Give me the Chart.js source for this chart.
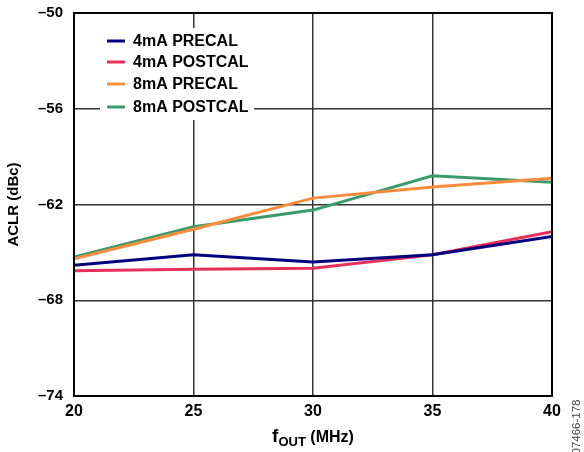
<!DOCTYPE html>
<html>
<head>
<meta charset="utf-8">
<script src="https://cdn.jsdelivr.net/npm/chart.js@4.4.0/dist/chart.umd.min.js"></script>
<style>
  html, body { margin: 0; padding: 0; background: #fff; overflow: hidden; }
  #wrap { width: 584px; height: 459px; position: relative; top: -7px; }
</style>
</head>
<body>
<div id="wrap"><canvas id="chart"></canvas></div>
<script>
// f_OUT in MHz
const freqs = [20, 25, 30, 35, 40];
const seriesNames = ['4mA PRECAL', '4mA POSTCAL', '8mA PRECAL', '8mA POSTCAL'];
const pre4 = [-65.8, -65.15, -65.6, -65.15, -64.0];
const post4 = [-66.15, -66.05, -66.0, -65.15, -63.7];
const pre8 = [-65.4, -63.55, -61.6, -60.9, -60.35];
const post8 = [-65.3, -63.4, -62.35, -60.2, -60.6];
const seriesColors = ['#00007f', '#e5305b', '#ff8c3c', '#3a9a6b'];
const yTicks = [-74, -68, -62, -56, -50];

const FONT = '"Liberation Sans", Arial, sans-serif';
const OFF = 7; // canvas is shifted up by this much

function pts(vals) {
    return freqs.map((f, i) => ({ x: f, y: vals[i] }));
}

const allSeries = [pre4, post4, pre8, post8];
const datasets = allSeries.map((vals, i) => ({
    label: seriesNames[i],
    data: pts(vals),
    borderColor: seriesColors[i],
    backgroundColor: seriesColors[i],
    borderWidth: 3,
    pointRadius: 0,
    tension: 0
}));

// legend box + axis titles + figure number
const extras = {
    id: 'extras',
    afterDatasetsDraw(chart) {
        const ctx = chart.ctx;
        const area = chart.chartArea;
        ctx.save();

        // frame
        ctx.strokeStyle = '#000';
        ctx.lineWidth = 2;
        ctx.strokeRect(area.left, area.top, area.right - area.left, area.bottom - area.top);

        // page coordinates from here on
        ctx.translate(0, OFF);

        // legend box over the grid
        ctx.fillStyle = '#fff';
        ctx.fillRect(100, 28, 154, 92);
        ctx.font = 'bold 16px ' + FONT;
        ctx.textBaseline = 'middle';
        ctx.textAlign = 'left';
        const rows = [41, 62, 84, 107];
        seriesNames.forEach((name, i) => {
            ctx.strokeStyle = seriesColors[i];
            ctx.lineWidth = 3;
            ctx.beginPath();
            ctx.moveTo(107, rows[i]);
            ctx.lineTo(125, rows[i]);
            ctx.stroke();
            ctx.fillStyle = '#000';
            ctx.fillText(name, 133, rows[i] + 1);
        });

        // y title
        ctx.fillStyle = '#000';
        ctx.font = 'bold 15px ' + FONT;
        ctx.save();
        ctx.translate(18, (area.top + area.bottom) / 2 - OFF);
        ctx.rotate(-Math.PI / 2);
        ctx.textAlign = 'center';
        ctx.textBaseline = 'alphabetic';
        ctx.fillText('ACLR (dBc)', 0, 0);
        ctx.restore();

        // x title with subscript
        const cx = (area.left + area.right) / 2;
        const by = 442;
        ctx.textAlign = 'left';
        ctx.textBaseline = 'alphabetic';
        const p1 = 'f', p2 = 'OUT', p3 = ' (MHz)';
        ctx.font = 'bold 19px ' + FONT;
        const w1 = ctx.measureText(p1).width;
        ctx.font = 'bold 16px ' + FONT;
        const w3 = ctx.measureText(p3).width;
        ctx.font = 'bold 13px ' + FONT;
        const w2 = ctx.measureText(p2).width;
        let x = cx - (w1 + w2 + w3) / 2;
        ctx.font = 'bold 19px ' + FONT;
        ctx.fillText(p1, x, by);
        x += w1;
        ctx.font = 'bold 13px ' + FONT;
        ctx.fillText(p2, x, by + 4);
        x += w2;
        ctx.font = 'bold 16px ' + FONT;
        ctx.fillText(p3, x, by);

        // figure number
        ctx.fillStyle = '#444';
        ctx.font = '11.5px ' + FONT;
        ctx.translate(580, 427);
        ctx.rotate(-Math.PI / 2);
        ctx.textAlign = 'center';
        ctx.fillText('07466-178', 0, 0);
        ctx.restore();
    }
};

const ctx = document.getElementById('chart').getContext('2d');
const chart = new Chart(ctx, {
    type: 'line',
    data: { datasets: datasets },
    options: {
        responsive: true,
        maintainAspectRatio: false,
        animation: false,
        layout: { padding: { top: 3, right: 32, left: 0, bottom: 0 } },
        plugins: {
            legend: { display: false },
            tooltip: { enabled: false }
        },
        scales: {
            x: {
                type: 'linear',
                min: 20,
                max: 40,
                ticks: {
                    stepSize: 5,
                    color: '#000',
                    font: { family: FONT, size: 16, weight: 'bold' },
                    padding: 6,
                    maxRotation: 0
                },
                grid: { color: '#333', lineWidth: 1.5, drawTicks: false },
                border: { display: false },
                afterFit(scale) { scale.height = 56; }
            },
            y: {
                min: -74,
                max: -50,
                afterBuildTicks(scale) {
                    scale.ticks = yTicks.map(v => ({ value: v }));
                },
                ticks: {
                    color: '#000',
                    font: { family: FONT, size: 15, weight: 'bold' },
                    padding: 11,
                    callback: v => String(v).replace('-', '\u2013')
                },
                grid: { color: '#333', lineWidth: 1.5, drawTicks: false },
                border: { display: false },
                afterFit(scale) { scale.width = 74; }
            }
        }
    },
    plugins: [extras]
});
</script>
</body>
</html>
